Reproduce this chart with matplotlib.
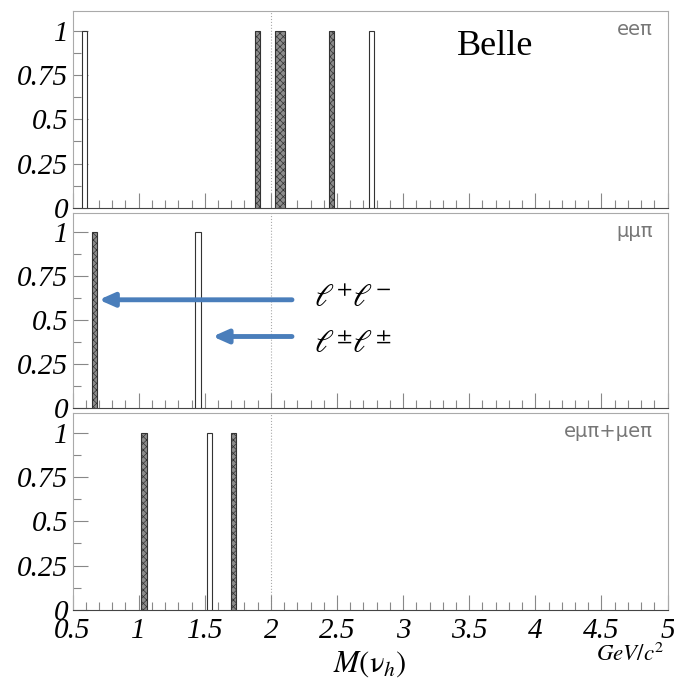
import matplotlib
matplotlib.use("Agg")
import matplotlib.pyplot as plt
from matplotlib.ticker import MultipleLocator, FixedLocator

plt.rcParams['mathtext.fontset'] = 'stix'
plt.rcParams['hatch.color'] = '#333333'
plt.rcParams['hatch.linewidth'] = 0.5

# candidate masses (GeV/c^2): bin centre and number of adjacent filled bins
bin_width = 0.04
ee_os = [1.90, 2.07, 2.46]      # l+ l-  (dark)
ee_os_bins = [1, 2, 1]
ee_ss = [0.59, 2.76]            # l± l±  (open)
ee_ss_bins = [1, 1]
mm_os = [0.665]
mm_os_bins = [1]
mm_ss = [1.45]
mm_ss_bins = [1]
em_os = [1.04, 1.715]
em_os_bins = [1, 1]
em_ss = [1.535]
em_ss_bins = [1]

panels = [
    (ee_os, ee_os_bins, ee_ss, ee_ss_bins, 'eeπ'),
    (mm_os, mm_os_bins, mm_ss, mm_ss_bins, 'μμπ'),
    (em_os, em_os_bins, em_ss, em_ss_bins, 'eμπ+μeπ'),
]

yticks = [0, 0.25, 0.5, 0.75, 1]
ytick_labels = ['0', '0.25', '0.5', '0.75', '1']
xticks = [0.5, 1, 1.5, 2, 2.5, 3, 3.5, 4, 4.5, 5]
xtick_labels = ['0.5', '1', '1.5', '2', '2.5', '3', '3.5', '4', '4.5', '5']

fig = plt.figure(figsize=(6.74, 6.87), dpi=100)

left = 72.5 / 674
width = 595 / 674
tops = [11, 213, 413]
bottoms = [208, 408, 610]

tickfont = dict(family='Liberation Serif', style='italic', size=21)

axes = []
for i, (os_vals, os_n, ss_vals, ss_n, tag) in enumerate(panels):
    b = 1 - bottoms[i] / 687
    h = (bottoms[i] - tops[i]) / 687
    ax = fig.add_axes([left, b, width, h])
    axes.append(ax)

    ax.bar(os_vals, [1] * len(os_vals), width=[n * bin_width for n in os_n],
           facecolor='#8c8c8c', edgecolor='#333333', linewidth=0.8,
           hatch='xxxxx', zorder=3)
    ax.bar(ss_vals, [1] * len(ss_vals), width=[n * bin_width for n in ss_n],
           facecolor='white', edgecolor='#333333', linewidth=0.8, zorder=3)
    ax.axvline(2.0, color='#aaaaaa', linestyle=':', linewidth=0.8, zorder=1)

    ax.set_xlim(0.5, 5)
    ax.set_ylim(0, 1.11)

    ax.yaxis.set_major_locator(FixedLocator(yticks))
    ax.set_yticklabels(ytick_labels, fontdict=tickfont)
    ax.yaxis.set_minor_locator(MultipleLocator(0.125))
    ax.xaxis.set_major_locator(FixedLocator(xticks))
    ax.xaxis.set_minor_locator(MultipleLocator(0.1))

    ax.tick_params(axis='both', which='major', direction='in', length=11,
                   color='#888888', width=0.8)
    ax.tick_params(axis='both', which='minor', direction='in', length=6,
                   color='#888888', width=0.8)
    ax.tick_params(axis='y', pad=3)
    for s in ['top', 'right', 'left']:
        ax.spines[s].set_color('#aaaaaa')
    ax.spines['bottom'].set_color('#444444')

    if i < 2:
        ax.set_xticklabels([])
    else:
        ax.set_xticklabels(xtick_labels, fontdict=tickfont)
        ax.tick_params(axis='x', pad=6)

    ax.text(0.975, 0.905, tag, transform=ax.transAxes, ha='right',
            va='center', fontsize=14, color='#777777',
            fontfamily='DejaVu Sans')

# Belle label
axes[0].text(0.71, 0.82, 'Belle', transform=axes[0].transAxes,
             ha='center', va='center', fontsize=26,
             fontfamily='Liberation Serif')

# arrows and lepton charge labels in middle panel
arrow_col = '#4a7ebb'
axm = axes[1]
axm.annotate('', xy=(0.70, 0.616), xytext=(2.16, 0.616),
             arrowprops=dict(arrowstyle='-|>,head_length=0.9,head_width=0.4',
                             color=arrow_col, lw=3.5, shrinkA=0, shrinkB=0),
             zorder=5)
axm.annotate('', xy=(1.56, 0.407), xytext=(2.16, 0.407),
             arrowprops=dict(arrowstyle='-|>,head_length=0.9,head_width=0.4',
                             color=arrow_col, lw=3.5, shrinkA=0, shrinkB=0),
             zorder=5)
axm.text(2.33, 0.625, r'$\ell^{+}\ell^{-}$', fontsize=23, va='center', ha='left')
axm.text(2.33, 0.36, r'$\ell^{\pm}\ell^{\pm}$', fontsize=23, va='center', ha='left')

# axis titles
fig.text(370 / 674, 1 - 664 / 687, r'$M(\mathrm{\nu}_h)$', ha='center',
         va='center', fontsize=22)
fig.text(664 / 674, 1 - 654 / 687, r'$GeV/c^2$', ha='right', va='center',
         fontsize=16.5)

fig.savefig('out.png', dpi=100)
